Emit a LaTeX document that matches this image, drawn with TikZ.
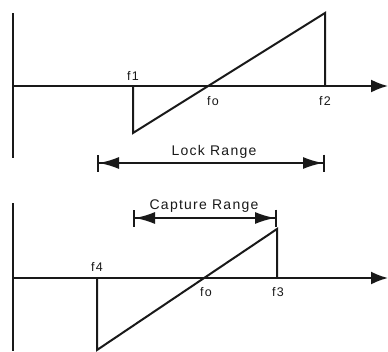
\documentclass[tikz,border=0pt]{standalone}
\usepackage{fontspec}
\setmainfont{Liberation Sans}[LetterSpace=9]
\usetikzlibrary{arrows.meta}
\begin{document}
\begin{tikzpicture}[x=1pt,y=-1pt,
  ln/.style={line width=2pt,black!90},
  axisarrow/.style={ln,-{Latex[length=17pt,width=13pt]}},
  rangearrow/.style={line width=1.8pt,black!90,{Bar[width=17pt,line width=2pt]Latex[length=20pt,width=12pt]}-{Latex[length=20pt,width=12pt]Bar[width=17pt,line width=2pt]}},
  lbl/.style={font=\fontsize{12.5}{12.5}\selectfont,text=black!90,inner sep=0pt},
  rlbl/.style={font=\fontsize{14}{14}\selectfont,text=black!90,inner sep=0pt}]
\useasboundingbox (0,0) rectangle (388,351);
% ---- top graph ----
\coordinate (ta) at (13,13);
\coordinate (tb) at (13,158);
\coordinate (to) at (13,86);
\coordinate (te) at (388,86);
\coordinate (f1a) at (133,86);
\coordinate (f1b) at (133,133);
\coordinate (f2a) at (325,13);
\coordinate (f2b) at (325,86);
\draw[ln] (ta) -- (tb);
\draw[axisarrow] (to) -- (te);
\draw[ln,line join=miter] (f1a) -- (f1b) -- (f2a) -- (f2b);
\node[lbl] (lf1) at (133,76) {f1};
\node[lbl] (lfo1) at (213,101) {fo};
\node[lbl] (lf2) at (325,101) {f2};
\coordinate (lra) at (97,163);
\coordinate (lrb) at (325,163);
\draw[rangearrow] (lra) -- (lrb);
\node[rlbl] (lock) at (214,152) {Lock Range};
% ---- bottom graph ----
\coordinate (ba) at (13,203);
\coordinate (bb) at (13,351);
\coordinate (bo) at (13,278);
\coordinate (be) at (388,278);
\coordinate (f4a) at (97,278);
\coordinate (f4b) at (97,350);
\coordinate (f3a) at (277,229);
\coordinate (f3b) at (277,278);
\draw[ln] (ba) -- (bb);
\draw[axisarrow] (bo) -- (be);
\draw[ln,line join=miter] (f4a) -- (f4b) -- (f3a) -- (f3b);
\node[lbl] (lf4) at (97,267) {f4};
\node[lbl] (lfo2) at (206,292) {fo};
\node[lbl] (lf3) at (278,292) {f3};
\coordinate (cra) at (133,218);
\coordinate (crb) at (277,218);
\draw[rangearrow] (cra) -- (crb);
\node[rlbl] (capt) at (204,206) {Capture Range};
\end{tikzpicture}
\end{document}
